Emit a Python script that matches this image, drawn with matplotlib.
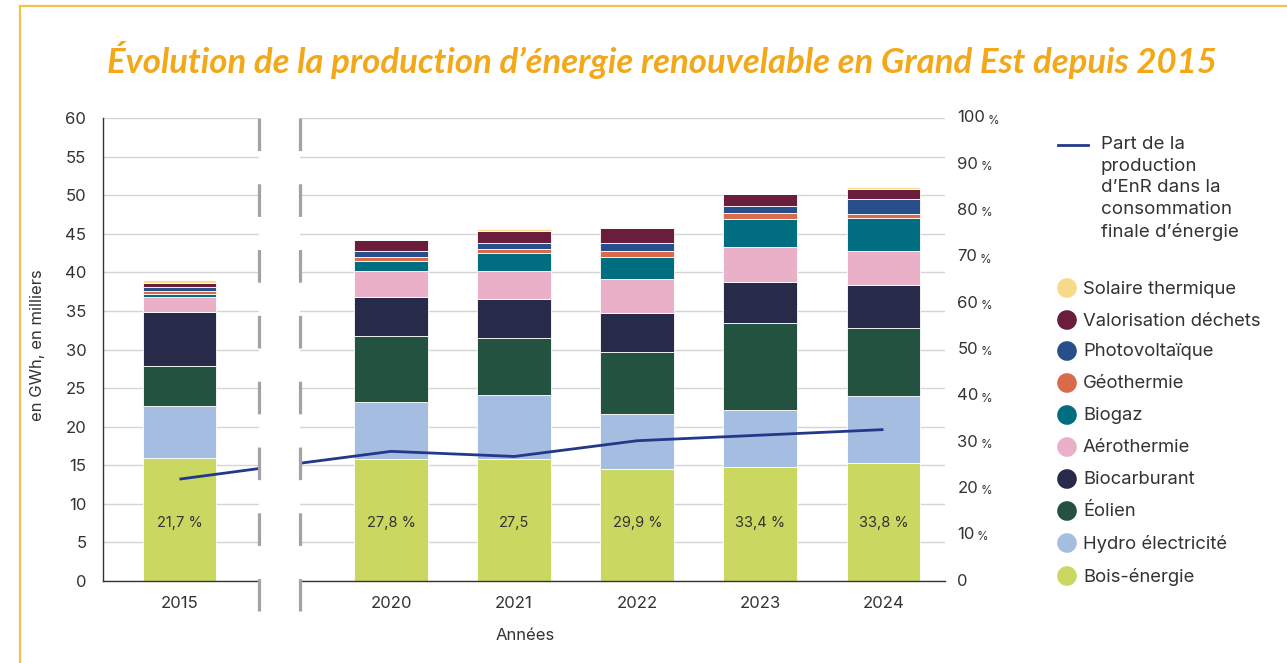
import matplotlib
matplotlib.use("Agg")
import matplotlib.pyplot as plt
from matplotlib.lines import Line2D

plt.rcParams['font.family'] = ['Inter', 'DejaVu Sans']

# ---------------- data ----------------
years_left = ['2015']
years_right = ['2020', '2021', '2022', '2023', '2024']

categories = ['Bois-énergie', 'Hydro électricité', 'Éolien', 'Biocarburant',
              'Aérothermie', 'Biogaz', 'Géothermie', 'Photovoltaïque',
              'Valorisation déchets', 'Solaire thermique']

# values in thousands of GWh : 2015, 2020, 2021, 2022, 2023, 2024
bois     = [16.0, 15.8, 15.8, 14.5, 14.8, 15.3]
hydro    = [6.7, 7.4, 8.3, 7.1, 7.4, 8.7]
eolien   = [5.2, 8.55, 7.4, 8.1, 11.2, 8.8]
biocarb  = [6.9, 5.05, 5.05, 5.05, 5.3, 5.55]
aero     = [2.05, 3.35, 3.65, 4.4, 4.55, 4.4]
biogaz   = [0.3, 1.3, 2.35, 2.85, 3.6, 4.3]
geo      = [0.45, 0.5, 0.5, 0.75, 0.8, 0.5]
pv       = [0.5, 0.75, 0.8, 1.05, 1.0, 1.95]
valo     = [0.5, 1.45, 1.45, 2.0, 1.45, 1.3]
solaire  = [0.4, 0.05, 0.35, 0.05, 0.05, 0.25]

share_pct = [22.0, 28.0, 26.9, 30.3, 31.5, 32.7]   # line (right axis, %)
share_labels = ['21,7 %', '27,8 %', '27,5', '29,9 %', '33,4 %', '33,8 %']

left_ticks = list(range(0, 61, 5))
right_ticks = list(range(0, 101, 10))

series = [bois, hydro, eolien, biocarb, aero, biogaz, geo, pv, valo, solaire]
colors = ['#CAD862', '#A6BDE2', '#245240', '#272A48', '#E9B0C8',
          '#006E80', '#D96B4B', '#27508A', '#6B1E3C', '#F9DA8A']
line_color = '#22398A'
text_color = '#333333'
grid_color = '#D4D4D4'

W, H = 1287, 663
fig = plt.figure(figsize=(W / 100, H / 100), dpi=100)

def frac(x0, y0, x1, y1):
    return [x0 / W, 1 - y1 / H, (x1 - x0) / W, (y1 - y0) / H]

axL = fig.add_axes(frac(103, 118, 259, 581))
axR = fig.add_axes(frac(300, 118, 945, 581))

GAP = 1.73  # distance (in bar slots) between 2015 and 2020
bar_w = 0.6
ymax = 60.0
scale = ymax / 100.0

def draw_panel(ax, idx, xs):
    bottom = [0.0] * len(idx)
    for vals, col in zip(series, colors):
        v = [vals[i] for i in idx]
        ax.bar(xs, v, bar_w, bottom=bottom, color=col, edgecolor='white',
               linewidth=0.6, zorder=2)
        bottom = [b + a for b, a in zip(bottom, v)]
    for x, i in zip(xs, idx):
        ax.text(x, 7.5, share_labels[i], ha='center', va='center',
                fontsize=10.5, color=text_color, zorder=4)
    ax.set_ylim(0, ymax)
    ax.set_yticks(left_ticks)
    ax.grid(axis='y', color=grid_color, linewidth=1.0, zorder=0)
    ax.set_axisbelow(True)
    for s in ['top', 'right', 'left']:
        ax.spines[s].set_visible(False)
    ax.spines['bottom'].set_color('#333333')
    ax.spines['bottom'].set_linewidth(1.0)
    ax.spines['bottom'].set_zorder(3)
    ax.tick_params(axis='x', length=0, pad=11, labelsize=12, colors=text_color)
    ax.tick_params(axis='y', length=0)

# left panel (2015)
xsL = [0]
draw_panel(axL, [0], xsL)
axL.set_xlim(-0.634, 0.66)
axL.set_xticks(xsL)
axL.set_xticklabels(years_left)
axL.spines['left'].set_visible(True)
axL.spines['left'].set_color('#333333')
axL.spines['left'].set_linewidth(1.0)
axL.tick_params(axis='y', labelsize=12, colors=text_color, pad=12)
axL.set_ylabel('en GWh, en milliers', fontsize=12, color=text_color, labelpad=8)
axL.yaxis.set_label_coords(-0.37, 0.51)
axL.plot([0, GAP], [share_pct[0] * scale, share_pct[1] * scale],
         color=line_color, linewidth=2.0, zorder=5, solid_capstyle='butt')

# right panel (2020-2024)
xsR = list(range(len(years_right)))
draw_panel(axR, [1, 2, 3, 4, 5], xsR)
axR.set_xlim(-0.74, 4.5)
axR.set_xticks(xsR)
axR.set_xticklabels(years_right)
axR.tick_params(axis='y', labelleft=False)
axR.plot([-GAP] + xsR, [p * scale for p in share_pct],
         color=line_color, linewidth=2.0, zorder=5, solid_capstyle='butt')

# right % axis labels
for t in right_ticks:
    y = t * scale
    num = axR.annotate(str(t), xy=(1.0, y), xycoords=('axes fraction', 'data'),
                       xytext=(9, 0), textcoords='offset points',
                       ha='left', va='center', fontsize=12, color=text_color,
                       annotation_clip=False)
    if t > 0:
        axR.annotate('%', xy=(1.0, 0.0), xycoords=num, xytext=(1.5, -0.9),
                     textcoords='offset points', ha='left', va='bottom',
                     fontsize=8.5, color=text_color, annotation_clip=False)

# overlay for decoration / legend in pixel coordinates
ov = fig.add_axes([0, 0, 1, 1], zorder=-1)
ov.set_xlim(0, W)
ov.set_ylim(H, 0)
ov.axis('off')
ov.patch.set_alpha(0)

top = fig.add_axes([0, 0, 1, 1], zorder=10)
top.set_xlim(0, W)
top.set_ylim(H, 0)
top.axis('off')
top.patch.set_alpha(0)

# border
ov.plot([20, W], [6, 6], color='#F7C04A', linewidth=1.6)
ov.plot([20, 20], [6, H], color='#F7C04A', linewidth=1.6)

# broken-axis markers (dash lengths are in units of linewidth)
for xb in (259, 300):
    top.add_line(Line2D([xb, xb], [118, 611], color='#A3A3A3', linewidth=2.3,
                        linestyle=(0, (10.2, 10.4))))

# title
fig.text(0.514, 1 - 60 / H,
         'Évolution de la production d’énergie renouvelable en Grand Est depuis 2015',
         ha='center', va='center', fontsize=25, fontweight='bold',
         fontstyle='italic', color='#F2A818', family=['Lato', 'DejaVu Sans'])

# x label
fig.text(525 / W, 1 - 635 / H, 'Années', ha='center', va='center',
         fontsize=12, color=text_color)

# legend
top.plot([1058, 1088], [145, 145], color=line_color, linewidth=2.0)
top.text(1101, 136, 'Part de la\nproduction\nd’EnR dans la\nconsommation\nfinale d’énergie',
         ha='left', va='top', fontsize=13.5, color=text_color, linespacing=1.35)

leg_y = [289, 321, 352, 384, 416, 448, 480, 512, 544, 577]
for yy, name, col in zip(leg_y, categories[::-1], colors[::-1]):
    top.scatter([1067], [yy - 1], s=200, color=col, edgecolors='none')
    top.text(1083, yy, name, ha='left', va='center', fontsize=13.3,
             color=text_color)

fig.savefig('out.png', dpi=100)
